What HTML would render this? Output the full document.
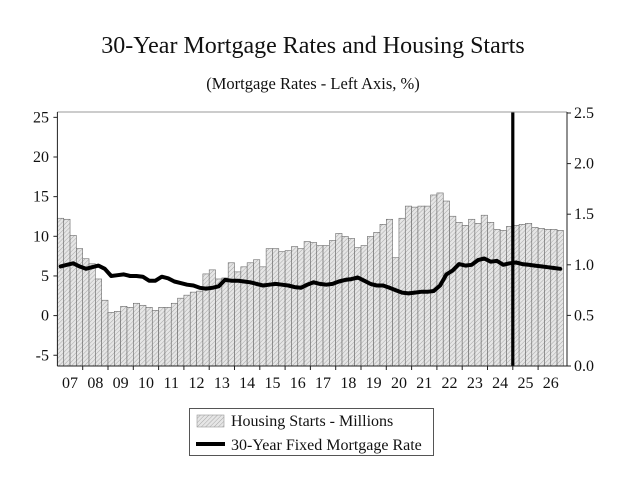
<!DOCTYPE html>
<html><head><meta charset="utf-8"><style>
html,body{margin:0;padding:0;background:#fff;}
svg{display:block;font-family:"Liberation Serif",serif;}
</style></head><body>
<svg id="chart" width="629" height="485" viewBox="0 0 629 485">
<defs>
<pattern id="hatch" patternUnits="userSpaceOnUse" width="3" height="3" patternTransform="rotate(45)">
<rect width="3" height="3" fill="#e6e6e6"/><line x1="0" y1="0" x2="0" y2="3" stroke="#a8a8a8" stroke-width="1"/>
</pattern>
</defs>
<text x="313" y="53" text-anchor="middle" font-size="24" fill="#111">30-Year Mortgage Rates and Housing Starts</text>
<text x="313" y="89" text-anchor="middle" font-size="16.5" fill="#111">(Mortgage Rates - Left Axis, %)</text>
<g id="plot"></g>
<g>
<rect x="189.5" y="408.5" width="244" height="47" fill="#fff" stroke="#555"/>
<rect x="197" y="415" width="27" height="12" fill="url(#hatch)" stroke="#999" stroke-width="0.6"/>
<text x="231" y="426" font-size="16" fill="#111">Housing Starts - Millions</text>
<line x1="196" y1="444" x2="225" y2="444" stroke="#000" stroke-width="4"/>
<text x="231" y="450" font-size="16" fill="#111">30-Year Fixed Mortgage Rate</text>
</g>
</svg>
<script>
const years = ["07","08","09","10","11","12","13","14","15","16","17","18","19","20","21","22","23","24","25","26"];
const leftTicks = [-5,0,5,10,15,20,25];
const rightTicks = [0.0,0.5,1.0,1.5,2.0,2.5];
const housingStarts = [
1.46,1.45,1.29,1.16, 1.06,1.01,0.86,0.65, 0.53,0.54,0.59,0.58, 0.62,0.60,0.58,0.55,
0.58,0.58,0.62,0.67, 0.70,0.73,0.74,0.91, 0.95,0.86,0.87,1.02, 0.93,0.98,1.02,1.05,
0.98,1.16,1.16,1.13, 1.14,1.18,1.16,1.23, 1.22,1.19,1.19,1.24, 1.31,1.28,1.26,1.17,
1.19,1.28,1.32,1.40, 1.45,1.07,1.46,1.58, 1.57,1.58,1.58,1.69, 1.71,1.63,1.48,1.42,
1.39,1.45,1.41,1.49, 1.42,1.35,1.34,1.38, 1.39,1.40,1.41,1.37, 1.36,1.35,1.35,1.34];
const mortgageRate = [
6.2,6.4,6.6,6.2, 5.9,6.1,6.3,5.9, 5.0,5.1,5.2,5.0, 5.0,4.9,4.4,4.4,
4.9,4.7,4.3,4.1, 3.9,3.8,3.5,3.4, 3.5,3.7,4.5,4.4, 4.4,4.3,4.2,4.0,
3.8,3.9,4.0,3.9, 3.8,3.6,3.5,3.9, 4.2,4.0,3.9,4.0, 4.3,4.5,4.6,4.8,
4.4,4.0,3.8,3.8, 3.5,3.2,2.9,2.8, 2.9,3.0,3.0,3.1, 3.8,5.2,5.7,6.5,
6.3,6.4,7.0,7.2, 6.8,6.9,6.4,6.6, 6.7,6.5,6.4,6.3, 6.2,6.1,6.0,5.9];
const forecastStart = [18];

const NS="http://www.w3.org/2000/svg";
const X0=57.4, X1=567, YT=112, YB=366, YW=25.3;
const qW=YW/4;
const xQ=i=>X0+i*qW;
const yL=v=>315.6-v*7.93;
const yR=v=>YB-v*101.2;
const plotG=document.getElementById('plot');
function mk(tag,attrs,parent){const e=document.createElementNS(NS,tag);for(const k in attrs)e.setAttribute(k,attrs[k]);(parent||plotG).appendChild(e);return e;}

const bars=mk('g',{});


housingStarts.forEach((v,i)=>{
  const y=yR(v);
  const r=mk('rect',{x:xQ(i),y:y,width:qW,height:YB-y,fill:'url(#hatch)',stroke:'#6a6a6a','stroke-width':0.6},bars);
  
  
});

const pts=mortgageRate.map((v,i)=>(xQ(i)+qW/2).toFixed(1)+','+yL(v).toFixed(1)).join(' ');
const ln=mk('polyline',{points:pts,fill:'none',stroke:'#000','stroke-width':4,'stroke-linejoin':'round','stroke-linecap':'round'});



forecastStart.forEach(t=>{
  const v=mk('line',{x1:X0+t*YW,x2:X0+t*YW,y1:YT,y2:YB,stroke:'#000','stroke-width':3.2});
  
  
});

const topBorder=mk('line',{x1:X0,x2:X1,y1:YT,y2:YT,stroke:'#999','stroke-width':1});


const leftAx=mk('line',{x1:X0,x2:X0,y1:YT,y2:YB,stroke:'#222','stroke-width':1});


const rightAx=mk('line',{x1:X1,x2:X1,y1:YT,y2:YB,stroke:'#222','stroke-width':1});


const bottomAx=mk('line',{x1:X0,x2:X1,y1:YB,y2:YB,stroke:'#222','stroke-width':1});



leftTicks.forEach(v=>{
  const y=yL(v);
  const t=mk('line',{x1:X0-4,x2:X0,y1:y,y2:y,stroke:'#222'});
  
  
  const l=mk('text',{x:49,y:y+5,'text-anchor':'end','font-size':16,fill:'#111'});
  l.textContent=v;
  
  
});
rightTicks.forEach(v=>{
  const y=yR(v);
  const t=mk('line',{x1:X1,x2:X1+4,y1:y,y2:y,stroke:'#222'});
  
  
  const l=mk('text',{x:574,y:y+5,'font-size':16,fill:'#111'});
  l.textContent=v.toFixed(1);
  
  
});
years.forEach((yy,i)=>{
  if(i>0){
    const t=mk('line',{x1:X0+i*YW,x2:X0+i*YW,y1:YB,y2:YB+4,stroke:'#222'});
    
    
  }
  const l=mk('text',{x:X0+i*YW+YW/2,y:YB+22,'text-anchor':'middle','font-size':16,fill:'#111'});
  l.textContent=yy;
  
  
});
</script>
</body></html>
